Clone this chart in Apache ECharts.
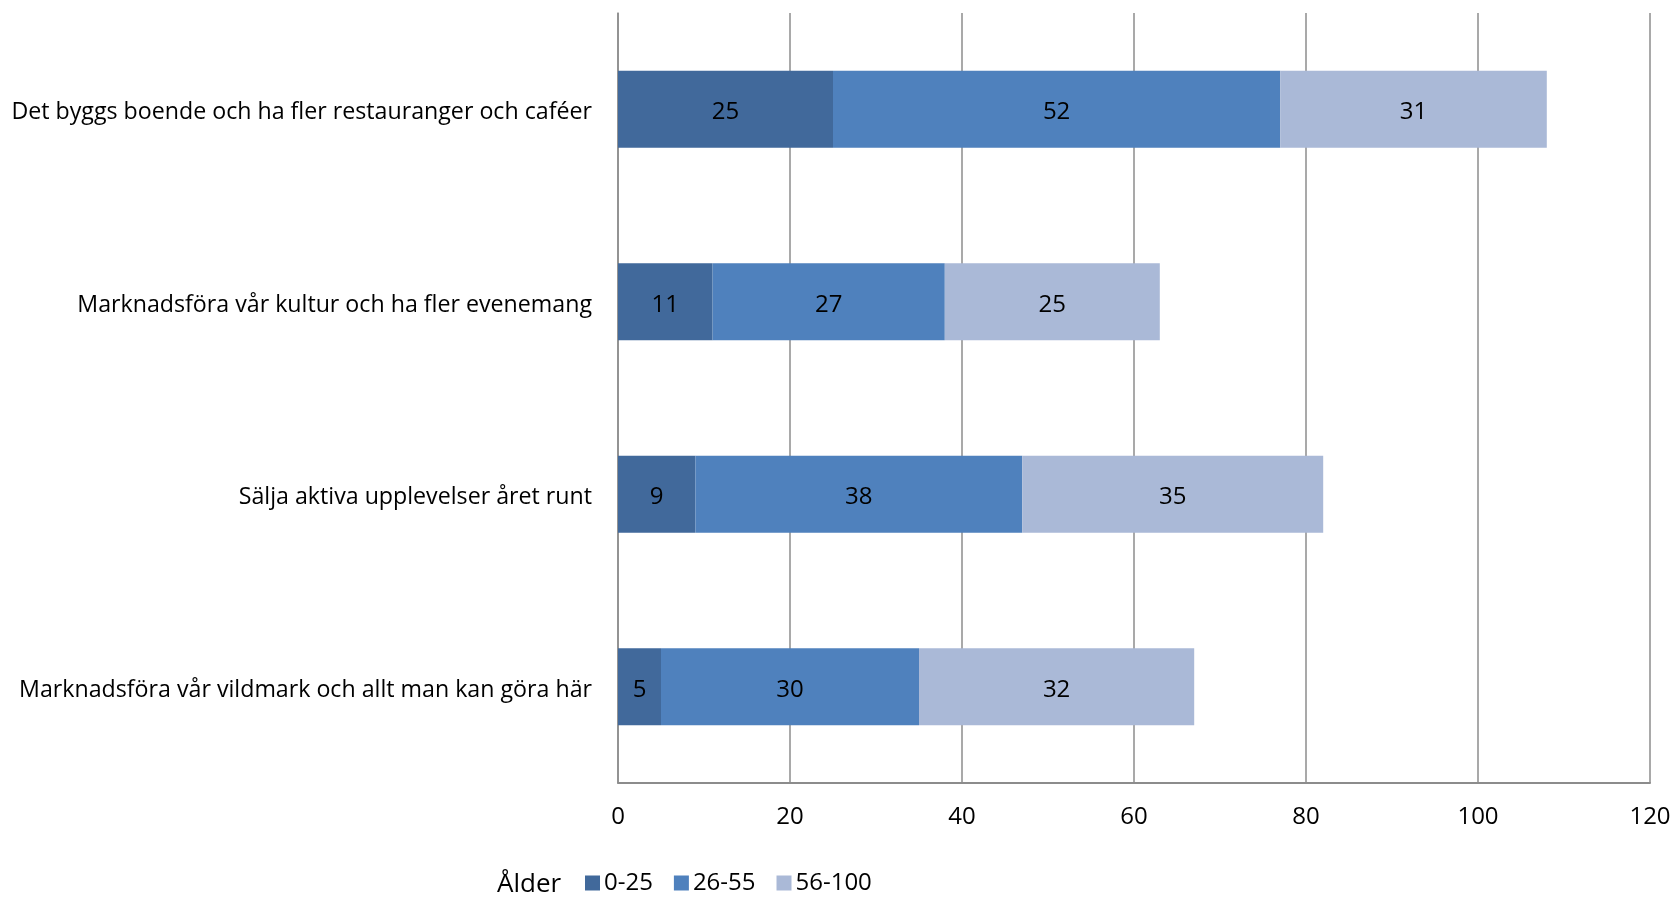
<!DOCTYPE html>
<html><head><meta charset="utf-8">
<script src="https://cdn.jsdelivr.net/npm/echarts@6/dist/echarts.min.js"></script>
<style>html,body{margin:0;padding:0;background:#fff}#c{width:1675px;height:897px}</style>
</head><body><div id="c"></div>
<script>
const categories = [
  "Det byggs boende och ha fler restauranger och caféer",
  "Marknadsföra vår kultur och ha fler evenemang",
  "Sälja aktiva upplevelser året runt",
  "Marknadsföra vår vildmark och allt man kan göra här"
];
const seriesNames = ["0-25", "26-55", "56-100"];
const age0_25 = [25, 11, 9, 5];
const age26_55 = [52, 27, 38, 30];
const age56_100 = [31, 25, 35, 32];
const xTicks = [0, 20, 40, 60, 80, 100, 120];
const legendTitle = "Ålder";

const colors = ["#41699B", "#4F81BD", "#AAB9D7"];
const font = "'Open Sans', sans-serif";
const data = [age0_25, age26_55, age56_100];

const chart = echarts.init(document.getElementById('c'));
chart.setOption({
  animation: false,
  textStyle: {fontFamily: font},
  grid: {left: 618, right: 25, top: 13, bottom: 114, containLabel: false},
  xAxis: {
    type: 'value', min: xTicks[0], max: xTicks[xTicks.length-1], interval: 20,
    axisLine: {show: true, lineStyle: {color: '#8c8c8c', width: 2}},
    axisTick: {show: false},
    splitLine: {show: true, lineStyle: {color: '#8c8c8c', width: 1.5}},
    axisLabel: {color: '#000', fontSize: 24, fontFamily: font, margin: 22}
  },
  yAxis: {
    type: 'category', data: categories, inverse: true,
    axisLine: {show: true, lineStyle: {color: '#8c8c8c', width: 1.5}},
    axisTick: {show: false},
    axisLabel: {
      color: '#000', fontSize: 23.2, fontFamily: font, margin: 26,
      formatter: v => '{a|' + v + '}',
      rich: {a: {color: '#000', fontSize: 23.2, fontFamily: font, padding: [7, 0, 0, 0]}}
    }
  },
  legend: {
    data: seriesNames, left: 580, top: 866, itemWidth: 15, itemHeight: 15, itemGap: 21,
    icon: 'rect',
    textStyle: {color: '#000', fontSize: 24, fontFamily: font, padding: [0,0,0,-1]}
  },
  graphic: [{type: 'text', left: 497, top: 872, style: {text: legendTitle, fontSize: 26, fontFamily: font, fill: '#000'}}],
  series: seriesNames.map((n, i) => ({
    name: n, type: 'bar', stack: 'total', data: data[i], barCategoryGap: '60%',
    itemStyle: {color: colors[i]},
    label: {show: true, position: 'inside', color: '#000', fontSize: 24, fontFamily: font, offset: [0, 3]}
  }))
});
</script></body></html>
